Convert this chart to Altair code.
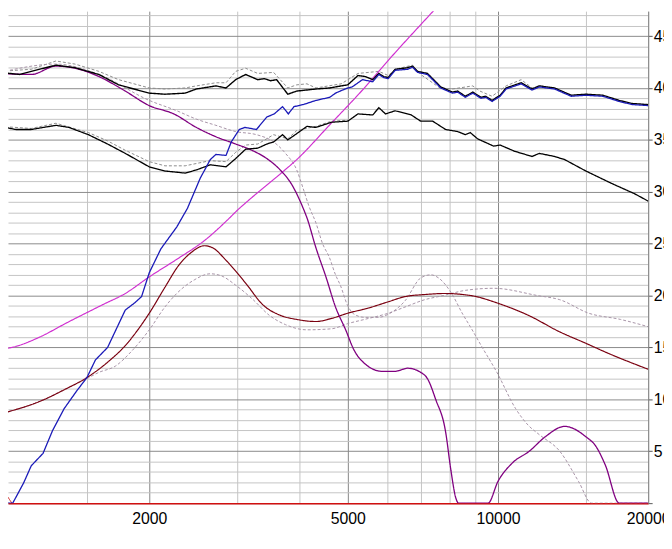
import altair as alt
import pandas as pd

# ---------------- data (frequency in Hz, level in dB) ----------------
UPPER_F = [1005, 1100, 1160, 1300, 1420, 1585, 1736, 2000, 2150, 2360, 2485, 2720, 2850, 2980,
           3120, 3300, 3400, 3500, 3600, 3790, 3950, 4316, 4600, 4850, 5000, 5240, 5420, 5610,
           5770, 5900, 6026, 6220, 6590, 6740, 6900, 7220, 7680, 8100, 8300, 8600, 8900, 9250,
           9450, 9730, 10100, 10380, 11130, 11700, 12100, 12980, 14020, 15000, 16220, 17500,
           18570, 20000]
UPPER_DB = [41.5, 41.3, 41.6, 42.2, 41.95, 41.3, 40.3, 39.5, 39.4, 39.5, 39.9, 40.2, 40.0, 40.8,
            41.3, 40.8, 40.9, 40.7, 40.8, 39.4, 39.7, 39.9, 40.0, 40.2, 40.3, 41.2, 41.1, 40.8,
            41.4, 41.1, 41.0, 41.8, 41.95, 42.1, 41.6, 41.4, 40.1, 39.6, 39.7, 39.2, 39.6, 39.1,
            39.2, 38.8, 39.3, 40.0, 40.5, 39.9, 40.2, 40.0, 39.3, 39.4, 39.3, 38.8, 38.5, 38.4]

UPPER_DASH_F = [1005, 1160, 1300, 1420, 1585, 1736, 2000, 2150, 2360, 2485, 2720, 2850, 2980,
                3120, 3300, 3550, 3790, 3950, 4140, 4316, 4850, 5240, 5770, 6026, 6220, 6740,
                7000, 7650, 8100, 8900, 9200, 9730, 10380, 11130, 11700, 12100]
UPPER_DASH_DB = [41.6, 41.8, 42.6, 42.3, 41.6, 40.8, 40.0, 39.9, 40.0, 40.2, 40.5, 40.5, 41.6,
                 41.9, 41.4, 41.5, 40.0, 40.3, 40.4, 40.0, 40.4, 41.4, 41.6, 41.2, 41.8, 42.2,
                 41.3, 40.0, 39.9, 40.2, 39.7, 39.2, 40.2, 40.8, 40.0, 40.2]

BLUE_F = [1005, 1065, 1120, 1160, 1225, 1280, 1350, 1430, 1500, 1560, 1650, 1790, 1870, 1930,
          2000, 2110, 2270, 2385, 2530, 2650, 2720, 2850, 2920, 3030, 3110, 3280, 3440, 3560,
          3700, 3800, 3900, 4070, 4316, 4600, 4724, 4880, 5000, 5100, 5350, 5610, 5770, 5900,
          6026, 6220, 6590, 6740, 6900, 7220, 7680, 8100, 8300, 8600, 8900, 9250, 9450, 9730,
          10100, 10380, 11130, 11700, 12100, 12980, 14020, 15000, 16220, 17500, 18570, 20000]
BLUE_DB = [0.0, 0.0, 1.95, 3.6, 4.8, 7.0, 9.1, 10.8, 12.1, 13.8, 15.0, 18.6, 19.3, 19.9,
           22.2, 24.5, 26.6, 28.4, 31.3, 33.1, 33.6, 33.5, 34.8, 36.0, 36.2, 36.0, 37.2, 37.5,
           38.2, 37.5, 38.2, 38.4, 38.8, 39.1, 39.5, 39.8, 40.0, 40.1, 40.8, 40.6, 41.3, 41.0,
           40.9, 41.7, 41.8, 42.0, 41.5, 41.3, 40.0, 39.5, 39.6, 39.1, 39.5, 39.0, 39.1, 38.7,
           39.2, 39.9, 40.4, 39.8, 40.1, 39.9, 39.2, 39.3, 39.2, 38.7, 38.4, 38.3]

LOWER_F = [1005, 1080, 1160, 1300, 1380, 1510, 1650, 1790, 2000, 2150, 2360, 2485, 2650, 2850,
           2980, 3120, 3300, 3440, 3550, 3700, 3790, 3950, 4140, 4316, 4640, 5000, 5240, 5610,
           5770, 5950, 6220, 6700, 7000, 7400, 7850, 8300, 8600, 8800, 9100, 9800, 10100,
           10800, 11700, 12100, 12980, 13600, 15000, 16900, 18800, 20000]
LOWER_DB = [36.3, 36.0, 36.0, 36.4, 36.2, 35.5, 34.6, 33.7, 32.4, 32.0, 31.8, 32.1, 32.6, 32.4,
            33.2, 34.1, 34.2, 34.6, 34.8, 35.5, 35.0, 35.6, 36.3, 36.2, 36.7, 36.8, 37.5, 37.4,
            38.1, 37.5, 37.8, 37.4, 36.8, 36.8, 36.0, 35.8, 35.5, 35.7, 35.1, 34.4, 34.5,
            33.9, 33.4, 33.7, 33.4, 33.1, 32.0, 30.8, 29.8, 29.1]

LOWER_DASH_F = [1005, 1160, 1300, 1510, 1650, 1790, 2000, 2150, 2360, 2650, 2850, 2980, 3120,
                3300, 3550, 3790, 3950, 4316, 4640, 5000]
LOWER_DASH_DB = [36.3, 36.1, 36.6, 35.7, 34.9, 34.0, 32.9, 32.5, 32.5, 33.0, 32.9, 33.8, 34.5,
                 34.6, 35.5, 35.1, 35.9, 36.3, 36.8, 36.9]

WOOFER_F = [1005, 1160, 1300, 1420, 1585, 1790, 2000, 2240, 2485, 2720, 2980, 3210, 3440, 3660,
            3860, 3950, 4070, 4140, 4316, 4520, 4724, 4950, 5140, 5420, 5860, 6220, 6590, 7000,
            7220, 7500, 7850, 8050, 8230, 8340, 9550, 10000, 10700, 11550, 12440, 13600, 15000,
            15700, 16400, 17500, 20000]
WOOFER_DB = [41.4, 41.3, 42.1, 41.9, 41.1, 39.7, 38.3, 37.5, 36.2, 35.3, 34.6, 34.0, 33.2, 32.1,
             30.7, 29.8, 28.4, 27.5, 24.6, 21.8, 18.9, 16.7, 14.8, 13.4, 12.7, 12.7, 13.0, 12.6,
             12.0, 10.0, 6.9, 3.1, 0.5, 0.0, 0.0, 2.1, 3.9, 5.0, 6.4, 7.4, 6.4,
             5.5, 3.7, 0.0, 0.0]

WOOFER_DASH_F = [1005, 1300, 1585, 2000, 2272, 2485, 2720, 2980, 3280, 3550, 3750, 3950, 4070,
                 4180, 4316, 4450, 4590, 4724, 4830, 5000, 5150, 5400, 5770, 6026, 6513, 7000,
                 7330, 7600, 8050, 8500, 8800, 9300, 9950, 10850, 11500, 12100, 13300, 14500,
                 15400, 20000]
WOOFER_DASH_DB = [41.5, 42.3, 41.3, 38.8, 37.8, 37.0, 36.4, 35.8, 35.5, 34.8, 33.7, 32.1, 30.3,
                  28.6, 27.0, 25.0, 23.7, 22.0, 21.0, 19.0, 18.2, 17.9, 17.9, 18.2, 19.5, 21.7,
                  22.0, 21.7, 20.3, 18.2, 17.0, 15.0, 12.6, 9.1, 7.5, 6.6, 5.0, 2.1,
                  0.0, 0.0]

MAGENTA_F = [1005, 1080, 1206, 1370, 1610, 1790, 2000, 2272, 2580, 2900, 3000, 3150, 3740, 3950,
             4590, 5350, 6220, 7000, 7650]
MAGENTA_DB = [14.8, 15.1, 16.0, 17.4, 19.1, 20.2, 21.8, 23.5, 25.3, 27.5, 28.2, 29.1, 32.1, 33.1,
              36.4, 39.8, 43.4, 46.1, 48.1]

MAROON_F = [1005, 1220, 1360, 1500, 1680, 1760, 2000, 2150, 2290, 2420, 2580, 2680, 2850, 3120,
            3380, 3660, 3950, 4316, 4640, 5000, 5500, 6026, 6513, 7130, 7850, 8500, 9050, 9800,
            11500, 13300, 15000, 16700, 20000]
MAROON_DB = [8.6, 9.9, 11.0, 12.1, 13.9, 14.8, 18.3, 20.8, 22.9, 24.1, 24.8, 24.6, 23.4, 21.2,
             19.1, 18.1, 17.7, 17.5, 17.8, 18.3, 18.8, 19.4, 19.9, 20.1, 20.2, 20.1, 19.9, 19.4,
             18.1, 16.5, 15.4, 14.4, 12.9]

MAROON_DASH_F = [1005, 1220, 1360, 1500, 1585, 1710, 1840, 2000, 2150, 2270, 2460, 2650, 2790,
                 2980, 3230, 3480, 3750, 4140, 4640, 5000, 5400, 6026, 6513, 7130, 7770, 8600,
                 9800, 12000, 13300, 15200, 17600, 20000]
MAROON_DASH_DB = [8.6, 9.9, 11.0, 12.0, 12.6, 13.2, 14.6, 16.7, 18.9, 20.2, 21.5, 22.1, 21.9,
                  21.0, 19.6, 18.1, 17.2, 16.7, 16.8, 17.3, 17.7, 18.3, 18.9, 19.6, 20.0, 20.5,
                  20.7, 20.0, 19.6, 18.3, 17.7, 17.0]

RED_F = [1005, 1061]
RED_DB = [1.7, 0.0]

# axis ticks / gridlines
X_GRID = [1000, 1500, 2000, 3000, 4000, 5000, 6000, 7000, 8000, 9000, 10000, 15000, 20000]
X_LABELS = [1000, 2000, 5000, 10000, 20000]
Y_GRID = list(range(0, 48))

# (name, freqs, levels, colour, dash, width, interpolation)
SERIES = [
    ("upper_dash", UPPER_DASH_F, UPPER_DASH_DB, "#8c8c8c", [3, 2], 1.0, "linear"),
    ("lower_dash", LOWER_DASH_F, LOWER_DASH_DB, "#8c8c8c", [3, 2], 1.0, "linear"),
    ("woofer_dash", WOOFER_DASH_F, WOOFER_DASH_DB, "#a894a8", [3, 2], 1.0, "monotone"),
    ("maroon_dash", MAROON_DASH_F, MAROON_DASH_DB, "#a894a8", [3, 2], 1.0, "monotone"),
    ("magenta", MAGENTA_F, MAGENTA_DB, "#d030d0", [1, 0], 1.2, "monotone"),
    ("maroon", MAROON_F, MAROON_DB, "#7a0010", [1, 0], 1.2, "monotone"),
    ("red", RED_F, RED_DB, "#cc2020", [1, 0], 1.0, "linear"),
    ("woofer", WOOFER_F, WOOFER_DB, "#800080", [1, 0], 1.3, "monotone"),
    ("lower", LOWER_F, LOWER_DB, "#000000", [1, 0], 1.3, "linear"),
    ("upper", UPPER_F, UPPER_DB, "#000000", [1, 0], 1.4, "linear"),
    ("blue", BLUE_F, BLUE_DB, "#1a1ab8", [1, 0], 1.3, "linear"),
]

rows = []
for name, fs, dbs, *_ in SERIES:
    for f, d in zip(fs, dbs):
        rows.append({"series": name, "f": f, "db": d})
df = pd.DataFrame(rows)

FONT = "Liberation Sans"

x_enc = alt.X(
    "f:Q",
    scale=alt.Scale(type="log", domain=[1042, 20000], nice=False),
    axis=alt.Axis(
        title=None,
        values=X_GRID,
        grid=True,
        gridColor={"condition": {"test": "datum.value == 2000 || datum.value == 5000 || datum.value == 10000",
                                 "value": "#858585"}, "value": "#c4c4c4"},
        gridWidth=1,
        ticks=False,
        domainColor="#d01010",
        domainWidth=1.5,
        labelExpr="indexof([1000, 2000, 5000, 10000, 20000], datum.value) >= 0 ? format(datum.value, 'd') : ''",
        labelFont=FONT,
        labelFontSize=16,
        labelColor="#000000",
        labelPadding=8,
        labelFlush=False,
        labelOverlap=False,
    ),
)
y_enc = alt.Y(
    "db:Q",
    scale=alt.Scale(domain=[0, 47.4], nice=False, zero=False),
    axis=alt.Axis(
        title=None,
        orient="right",
        values=Y_GRID,
        grid=True,
        gridColor={"condition": {"test": "datum.value % 5 == 0", "value": "#8a8a8a"},
                   "value": "#c4c4c4"},
        gridWidth=1,
        tickColor={"condition": {"test": "datum.value % 5 == 0", "value": "#555555"},
                   "value": "transparent"},
        tickSize=4,
        domainColor="#808080",
        labelExpr="datum.value % 5 == 0 && datum.value > 0 ? format(datum.value, 'd') : ''",
        labelFont=FONT,
        labelFontSize=16,
        labelColor="#000000",
        labelPadding=1,
        labelOverlap=False,
        labelFlush=False,
    ),
)

layers = []
for name, fs, dbs, color, dash, width, interp in SERIES:
    layer = (
        alt.Chart(df)
        .transform_filter(alt.datum.series == name)
        .mark_line(clip=True, color=color, strokeDash=dash, strokeWidth=width,
                   interpolate=interp)
        .encode(x=x_enc, y=y_enc, order="f:Q")
    )
    layers.append(layer)

chart = (
    alt.layer(*layers)
    .properties(
        width=648,
        height=498,
        padding={"left": 0, "top": 0, "right": 16, "bottom": 26},
        autosize=alt.AutoSizeParams(type="none"),
        background="#ffffff",
    )
    .configure_view(stroke=None)
)

chart.save("out.html", embed_options={"renderer": "svg", "actions": False})
